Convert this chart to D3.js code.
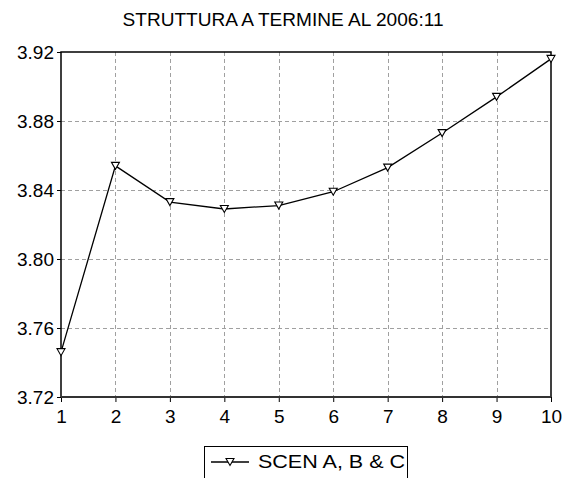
<!DOCTYPE html>
<html>
<head>
<meta charset="utf-8">
<script src="https://cdn.jsdelivr.net/npm/d3@7"></script>
<style>
  html, body { margin: 0; padding: 0; background: #fff; }
  svg { display: block; }
  text { font-family: "Liberation Sans", Arial, sans-serif; fill: #000; }
</style>
</head>
<body>
<script>
// Term structure (maturity 1..10) for the combined scenario
const maturities = [1, 2, 3, 4, 5, 6, 7, 8, 9, 10];
const rates = [3.746, 3.854, 3.833, 3.829, 3.831, 3.839, 3.853, 3.873, 3.894, 3.916];
const yTicks = [3.72, 3.76, 3.80, 3.84, 3.88, 3.92];
const titleText = "STRUTTURA A TERMINE AL 2006:11";
const seriesName = "SCEN A, B & C";

const W = 565, H = 478;
const plot = { left: 61, right: 551, top: 52, bottom: 397 };
const FS = 19;

const svg = d3.select("body").append("svg").attr("width", W).attr("height", H);

const x = d3.scaleLinear().domain([1, 10]).range([plot.left, plot.right]);
const y = d3.scaleLinear().domain([3.72, 3.92]).range([plot.bottom, plot.top]);

// title
svg.append("text")
  .attr("x", 283).attr("y", 26)
  .attr("text-anchor", "middle")
  .attr("font-size", FS)
  .attr("textLength", 321).attr("lengthAdjust", "spacingAndGlyphs")
  .text(titleText);

// dashed grid
const grid = svg.append("g").attr("stroke", "#a0a0a0").attr("stroke-width", 1)
  .attr("stroke-dasharray", "4,3").attr("fill", "none");
grid.selectAll("line.v").data(maturities.slice(1, -1)).join("line")
  .attr("x1", d => Math.round(x(d)) + 0.5).attr("x2", d => Math.round(x(d)) + 0.5)
  .attr("y1", plot.top).attr("y2", plot.bottom);
grid.selectAll("line.h").data(yTicks.slice(1, -1)).join("line")
  .attr("x1", plot.left).attr("x2", plot.right)
  .attr("y1", d => Math.round(y(d)) + 0.5).attr("y2", d => Math.round(y(d)) + 0.5);

// axes
const yAxis = d3.axisLeft(y).tickValues(yTicks).tickSize(4).tickPadding(3)
  .tickFormat(d3.format(".2f"));
const gy = svg.append("g").attr("transform", `translate(${plot.left},0)`).call(yAxis);
gy.select(".domain").remove();
gy.selectAll("text").attr("font-size", FS).attr("font-family", "Liberation Sans, Arial, sans-serif")
  .attr("dy", "0.36em");

const xAxis = d3.axisBottom(x).tickValues(maturities).tickSize(5).tickPadding(8)
  .tickFormat(d3.format("d"));
const gx = svg.append("g").attr("transform", `translate(0,${plot.bottom})`).call(xAxis);
gx.select(".domain").remove();
gx.selectAll("text").attr("font-size", FS).attr("font-family", "Liberation Sans, Arial, sans-serif");

// frame
svg.append("rect")
  .attr("x", plot.left).attr("y", plot.top)
  .attr("width", plot.right - plot.left).attr("height", plot.bottom - plot.top)
  .attr("fill", "none").attr("stroke", "#000").attr("stroke-width", 1.5);
svg.append("line")
  .attr("x1", plot.left).attr("x2", plot.right)
  .attr("y1", plot.bottom).attr("y2", plot.bottom)
  .attr("stroke", "#333").attr("stroke-width", 2);

// series line
const pts = maturities.map((m, i) => [m, rates[i]]);
svg.append("path")
  .datum(pts)
  .attr("fill", "none").attr("stroke", "#000").attr("stroke-width", 1.3)
  .attr("d", d3.line().x(d => x(d[0])).y(d => y(d[1])));

// down-triangle markers
const tri = "M-4,-3.5L4,-3.5L0,3.5Z";
svg.append("g").selectAll("path").data(pts).join("path")
  .attr("transform", d => `translate(${x(d[0])},${y(d[1])})`)
  .attr("d", tri)
  .attr("fill", "#fff").attr("stroke", "#000").attr("stroke-width", 1.1);

// legend
const lg = svg.append("g");
lg.append("rect").attr("x", 204.5).attr("y", 446.5).attr("width", 203).attr("height", 40)
  .attr("fill", "#fff").attr("stroke", "#000").attr("stroke-width", 1);
lg.append("line").attr("x1", 211).attr("x2", 249).attr("y1", 462).attr("y2", 462)
  .attr("stroke", "#000").attr("stroke-width", 1.3);
lg.append("path").attr("transform", "translate(230,462)").attr("d", tri)
  .attr("fill", "#fff").attr("stroke", "#000").attr("stroke-width", 1.1);
lg.append("text").attr("x", 258).attr("y", 468)
  .attr("font-size", FS)
  .attr("textLength", 147).attr("lengthAdjust", "spacingAndGlyphs")
  .text(seriesName);
</script>
</body>
</html>
